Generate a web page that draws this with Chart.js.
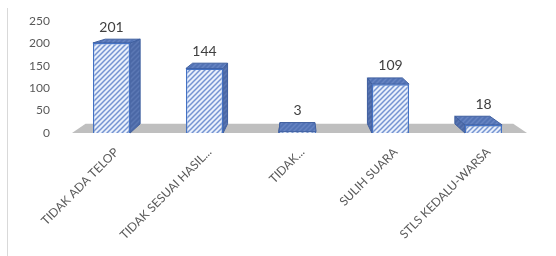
<!DOCTYPE html>
<html>
<head>
<meta charset="utf-8">
<script src="https://cdn.jsdelivr.net/npm/chart.js@4.4.0/dist/chart.umd.min.js"></script>
<style>
	html, body { margin: 0; padding: 0; background: #fff; }
	#wrap { width: 556px; height: 256px; position: relative; }
</style>
</head>
<body>
<div id="wrap"><canvas id="mycanvas" width="556" height="256"></canvas></div>
<script>
var categories = ['TIDAK ADA TELOP', 'TIDAK SESUAI HASIL...', 'TIDAK...', 'SULIH SUARA', 'STLS KEDALU-WARSA'];
var counts = [201, 144, 3, 109, 18];
var yMin = 0, yMax = 250, yStep = 50;

// diagonal hatch used for the bar faces
function hatch(bg, fg) {
	var c = document.createElement('canvas');
	c.width = 5; c.height = 5;
	var g = c.getContext('2d');
	g.fillStyle = bg;
	g.fillRect(0, 0, 5, 5);
	g.strokeStyle = fg;
	g.lineWidth = 1.5;
	g.beginPath();
	g.moveTo(-1, 6); g.lineTo(6, -1);
	g.moveTo(-4, 4); g.lineTo(4, -4);
	g.moveTo(1, 9); g.lineTo(9, 1);
	g.stroke();
	return g.createPattern(c, 'repeat');
}

var ctx = document.getElementById('mycanvas').getContext('2d');
var frontFill = hatch('#e9f0fb', '#7594d2');
var sideFill = hatch('#4b68a6', '#5b78b4');
var topFill = hatch('#5373b5', '#6784c2');

// simple perspective: points recede toward (vx, vy)
var depth = 0.06, vy = -20;
function back(x, y, vx) {
	return [x + depth * (vx - x), y + depth * (vy - y)];
}

var box3d = {
	id: 'box3d',
	beforeDatasetsDraw: function(chart) {
		var c = chart.ctx, a = chart.chartArea;
		var vx = (a.left + a.right) / 2;
		var base = chart.scales.y.getPixelForValue(0);
		// grey floor
		var fl = a.left + 7, fr = a.right - 3;
		var bl = back(fl, base, vx), br = back(fr, base, vx);
		c.save();
		c.fillStyle = '#bfbfbf';
		c.beginPath();
		c.moveTo(fl, base); c.lineTo(fr, base);
		c.lineTo(br[0], br[1]); c.lineTo(bl[0], bl[1]);
		c.closePath(); c.fill();

		var meta = chart.getDatasetMeta(0);
		meta.data.forEach(function(bar) {
			var half = bar.width / 2;
			var l = bar.x - half, r = bar.x + half, t = bar.y, b = bar.base;
			var sx = bar.x < vx ? r : l;
			var st = back(sx, t, vx), sb = back(sx, b, vx);
			c.fillStyle = sideFill;
			c.strokeStyle = '#3f5f9f';
			c.lineWidth = 1;
			c.beginPath();
			c.moveTo(sx, t); c.lineTo(st[0], st[1]); c.lineTo(sb[0], sb[1]); c.lineTo(sx, b);
			c.closePath(); c.fill(); c.stroke();
			var tl = back(l, t, vx), tr = back(r, t, vx);
			c.fillStyle = topFill;
			c.beginPath();
			c.moveTo(l, t); c.lineTo(r, t); c.lineTo(tr[0], tr[1]); c.lineTo(tl[0], tl[1]);
			c.closePath(); c.fill(); c.stroke();
		});
		c.restore();
	},
	afterDatasetsDraw: function(chart) {
		var c = chart.ctx, a = chart.chartArea;
		var vx = (a.left + a.right) / 2;
		var meta = chart.getDatasetMeta(0);
		c.save();
		c.fillStyle = '#404040';
		c.font = '14px Lato';
		c.textAlign = 'center';
		c.textBaseline = 'bottom';
		meta.data.forEach(function(bar, i) {
			var tb = back(bar.x, bar.y, vx);
			c.fillText(counts[i], bar.x, tb[1] - 5);
		});
		// left frame line
		c.strokeStyle = '#d9d9d9';
		c.lineWidth = 1;
		c.beginPath();
		c.moveTo(7.5, 8); c.lineTo(7.5, 256);
		c.stroke();
		c.restore();
	}
};

var chartdata = {
	labels: categories,
	datasets: [
		{
			label: 'Jumlah',
			backgroundColor: frontFill,
			borderColor: '#4472c4',
			borderWidth: 1.5,
			data: counts,
			barPercentage: 0.4,
			categoryPercentage: 1
		}
	]
};

var barGraph = new Chart(ctx, {
	type: 'bar',
	data: chartdata,
	plugins: [box3d],
	options: {
		responsive: false,
		animation: false,
		layout: { padding: { top: 21, right: 26, left: 0, bottom: 0 } },
		plugins: { legend: { display: false }, tooltip: { enabled: false } },
		scales: {
			x: {
				grid: { display: false },
				border: { display: false },
				ticks: {
					color: '#595959',
					font: { family: 'Lato', size: 12 },
					minRotation: 45,
					maxRotation: 45,
					autoSkip: false,
					padding: 4,
					labelOffset: 5
				},
				afterFit: function(scale) { scale.height = 123; }
			},
			y: {
				min: yMin,
				max: yMax,
				grid: { display: false },
				border: { display: false },
				ticks: {
					stepSize: yStep,
					color: '#595959',
					font: { family: 'Lato', size: 12 },
					padding: 7
				},
				afterFit: function(scale) { scale.width = 65; }
			}
		}
	}
});
</script>
</body>
</html>
